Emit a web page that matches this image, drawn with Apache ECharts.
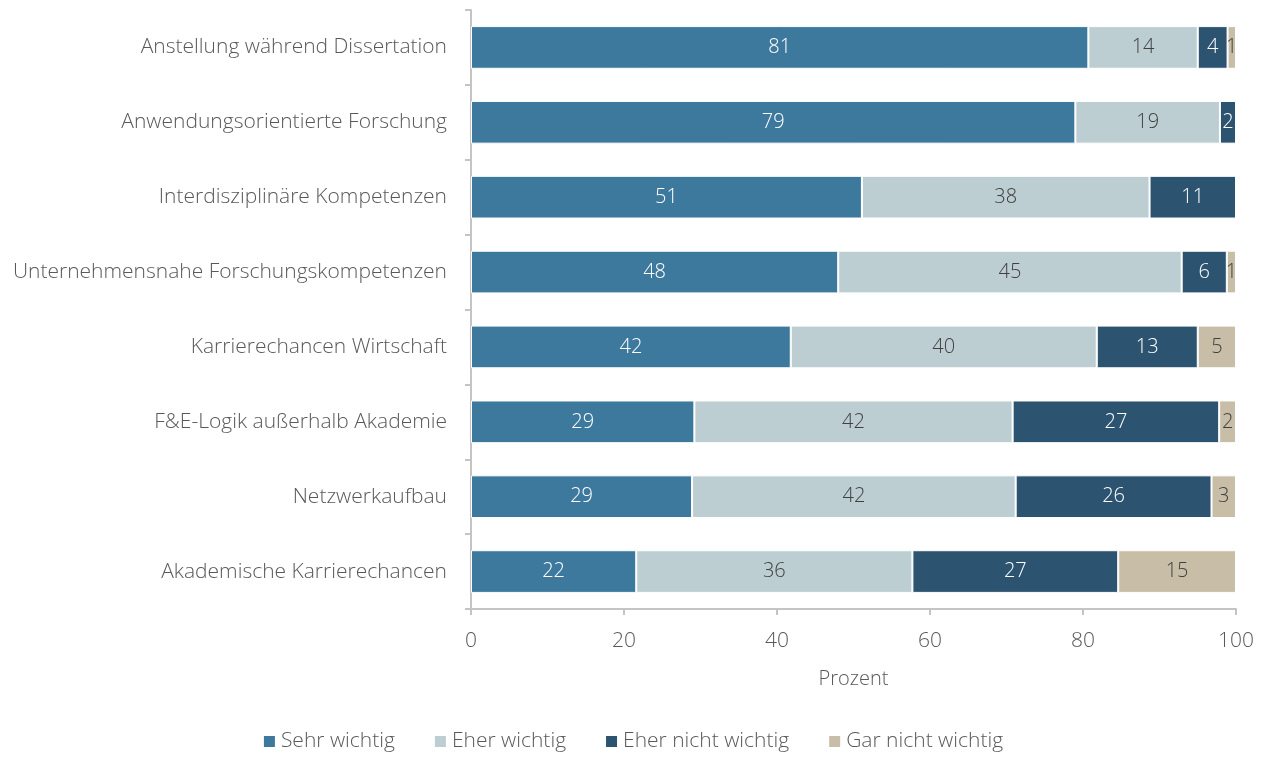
<!DOCTYPE html>
<html>
<head>
<meta charset="utf-8">
<script src="https://cdn.jsdelivr.net/npm/echarts@6/dist/echarts.min.js"></script>
<style>
  html, body { margin: 0; padding: 0; background: #fff; }
  #chart { width: 1265px; height: 757px; }
</style>
</head>
<body>
<div id="chart"></div>
<script>
// categories, top to bottom
const categories = [
  "Anstellung während Dissertation",
  "Anwendungsorientierte Forschung",
  "Interdisziplinäre Kompetenzen",
  "Unternehmensnahe Forschungskompetenzen",
  "Karrierechancen Wirtschaft",
  "F&E-Logik außerhalb Akademie",
  "Netzwerkaufbau",
  "Akademische Karrierechancen"
];

const sehrWichtig = [80.7, 79.0, 51.1, 48.0, 41.8, 29.2, 28.9, 21.6];
const eherWichtig = [14.3, 18.9, 37.6, 44.9, 40.0, 41.6, 42.3, 36.1];
const eherNichtWichtig = [3.9, 2.1, 11.3, 5.9, 13.2, 27.0, 25.6, 26.9];
const garNichtWichtig = [1.1, 0, 0, 1.2, 5.0, 2.2, 3.2, 15.4];

const xTicks = [0, 20, 40, 60, 80, 100];

const FONT = "Open Sans";
const GRAY = "#595959";

function makeSeries(name, data, color, labelColor) {
  return {
    name: name,
    type: "bar",
    stack: "total",
    barCategoryGap: "43%",
    data: data,
    itemStyle: { color: color, borderColor: "#fff", borderWidth: 1 },
    label: {
      show: true,
      position: "inside",
      color: labelColor,
      fontFamily: FONT,
      fontSize: 20,
      fontWeight: 300,
      formatter: p => (p.value > 0 ? Math.round(p.value) : "")
    },
    emphasis: { disabled: true }
  };
}

let chart = echarts.init(document.getElementById("chart"));

let option = {
  animation: false,
  textStyle: { fontFamily: FONT },
  grid: { left: 471, right: 29, top: 10, bottom: 148, containLabel: false },
  legend: {
    bottom: 0,
    left: "center",
    itemWidth: 13,
    itemHeight: 13,
    itemGap: 38,
    icon: "rect",
    textStyle: { color: GRAY, fontSize: 21, fontFamily: FONT, fontWeight: 300 },
    data: ["Sehr wichtig", "Eher wichtig", "Eher nicht wichtig", "Gar nicht wichtig"]
  },
  xAxis: {
    type: "value",
    min: xTicks[0],
    max: xTicks[xTicks.length - 1],
    interval: 20,
    name: "Prozent",
    nameLocation: "middle",
    nameGap: 60,
    nameTextStyle: { color: GRAY, fontSize: 20, fontFamily: FONT, fontWeight: 300 },
    splitLine: { show: false },
    axisLine: { show: true, lineStyle: { color: "#c4c4c4", width: 2 } },
    axisTick: { show: true, length: 6, lineStyle: { color: "#c4c4c4", width: 2 } },
    axisLabel: { color: GRAY, fontSize: 21, margin: 22, fontWeight: 300 }
  },
  yAxis: {
    type: "category",
    inverse: true,
    data: categories,
    axisLine: { show: true, lineStyle: { color: "#c4c4c4", width: 2 } },
    axisTick: { show: true, length: 6, lineStyle: { color: "#c4c4c4", width: 2 } },
    axisLabel: { color: GRAY, fontSize: 21, margin: 24, fontWeight: 300 }
  },
  series: [
    makeSeries("Sehr wichtig", sehrWichtig, "#3c799d", "#ffffff"),
    makeSeries("Eher wichtig", eherWichtig, "#bdced3", "#404040"),
    makeSeries("Eher nicht wichtig", eherNichtWichtig, "#2c5470", "#ffffff"),
    makeSeries("Gar nicht wichtig", garNichtWichtig, "#c8bea7", "#404040")
  ]
};

chart.setOption(option);
</script>
</body>
</html>
